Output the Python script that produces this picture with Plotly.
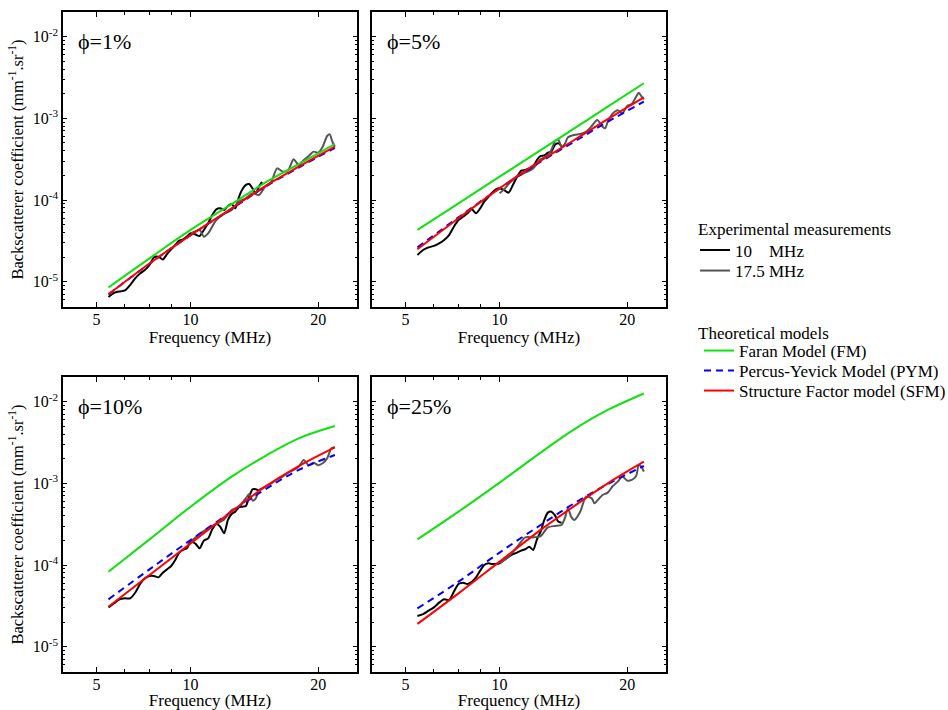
import math
import plotly.graph_objects as go

# ---------------- data (frequency in MHz, backscatter coefficient in mm^-1.sr^-1) ----------------
f_model = [6.4, 8.0, 10.0, 12.5, 15.0, 18.0, 21.9]

f_10mhz = [6.4, 6.6, 6.8, 7.0, 7.2, 7.4, 7.6, 7.8, 8.0, 8.2, 8.4, 8.6, 8.8, 9.0, 9.2, 9.4, 9.6, 9.8,
           10.0, 10.25, 10.5, 10.75, 11.0, 11.25, 11.5, 11.75, 12.0, 12.25, 12.5, 12.75, 13.0,
           13.25, 13.5, 13.75, 14.0, 14.25, 14.5, 14.75]

# phi = 1 %
fm_1 = [8.5e-6, 1.93e-5, 4.3e-5, 8.9e-5, 1.63e-4, 2.75e-4, 4.85e-4]
pym_1 = [7.0e-6, 1.66e-5, 3.7e-5, 7.8e-5, 1.45e-4, 2.5e-4, 4.35e-4]
sfm_1 = [7.0e-6, 1.67e-5, 3.72e-5, 7.9e-5, 1.48e-4, 2.56e-4, 4.5e-4]
exp10_1 = [6.5e-6, 7.3e-6, 7.6e-6, 7.8e-6, 9.1e-6, 1.10e-5, 1.26e-5, 1.39e-5, 1.60e-5, 1.99e-5,
           2.02e-5, 1.87e-5, 2.18e-5, 2.49e-5, 2.81e-5, 3.18e-5, 3.30e-5, 3.56e-5, 3.91e-5,
           3.80e-5, 3.62e-5, 4.30e-5, 5.18e-5, 6.55e-5, 7.69e-5, 7.91e-5, 7.55e-5, 8.45e-5, 8.93e-5,
           7.91e-5, 1.08e-4, 1.35e-4, 1.53e-4, 1.57e-4, 1.39e-4, 1.21e-4, 1.46e-4, 1.67e-4]
f175_1 = [10.0, 10.5, 10.75, 11.0, 11.5, 12.0, 12.5, 13.0, 13.5, 14.0, 14.5, 15.0, 15.5, 16.0,
          16.5, 17.0, 17.5, 18.0, 18.5, 19.0, 19.5, 20.0, 20.5, 21.0, 21.3, 21.6, 21.9]
exp175_1 = [3.91e-5, 4.30e-5, 3.56e-5, 3.91e-5, 5.69e-5, 6.75e-5, 7.55e-5, 9.55e-5, 1.05e-4,
            1.21e-4, 1.15e-4, 1.46e-4, 1.67e-4, 2.44e-4, 2.22e-4, 2.33e-4, 3.15e-4, 2.69e-4,
            3.09e-4, 3.46e-4, 3.91e-4, 3.80e-4, 4.50e-4, 6.08e-4, 6.37e-4, 5.18e-4, 4.50e-4]

# phi = 5 %
fm_5 = [4.30e-5, 9.1e-5, 1.93e-4, 4.08e-4, 7.53e-4, 1.39e-3, 2.69e-3]
pym_5 = [2.63e-5, 6.14e-5, 1.39e-4, 2.94e-4, 5.18e-4, 9.1e-4, 1.60e-3]
sfm_5 = [2.49e-5, 5.97e-5, 1.39e-4, 3.03e-4, 5.43e-4, 9.8e-4, 1.81e-3]
exp10_5 = [2.12e-5, 2.44e-5, 2.63e-5, 2.74e-5, 2.94e-5, 3.24e-5, 3.72e-5, 4.71e-5, 5.69e-5, 6.25e-5,
           6.87e-5, 7.69e-5, 6.87e-5, 7.91e-5, 9.55e-5, 1.08e-4, 1.23e-4, 1.35e-4, 1.39e-4,
           1.32e-4, 1.23e-4, 1.53e-4, 1.93e-4, 2.29e-4, 2.33e-4, 2.44e-4, 2.56e-4, 3.09e-4, 3.46e-4,
           3.52e-4, 3.80e-4, 3.91e-4, 4.71e-4, 4.94e-4, 4.58e-4]
f175_5 = [10.0, 10.25, 10.5, 10.75, 11.0, 11.5, 12.0, 12.5, 13.0, 13.25, 13.5, 13.75, 14.0, 14.25,
          14.5, 15.0, 15.5, 16.0, 16.5, 17.0, 17.5, 17.75, 18.0, 18.5, 19.0, 19.5, 20.0, 20.5,
          21.0, 21.3, 21.6, 21.9]
exp175_5 = [1.21e-4, 1.35e-4, 1.57e-4, 1.76e-4, 1.93e-4, 2.16e-4, 2.44e-4, 3.15e-4, 3.56e-4,
            4.09e-4, 5.18e-4, 5.53e-4, 4.50e-4, 4.85e-4, 5.85e-4, 6.25e-4, 6.43e-4, 6.87e-4,
            8.05e-4, 9.55e-4, 7.91e-4, 7.55e-4, 9.10e-4, 1.15e-3, 1.26e-3, 1.15e-3, 1.42e-3,
            1.50e-3, 1.84e-3, 2.06e-3, 1.87e-3, 1.71e-3]

# phi = 10 %
fm_10 = [8.28e-5, 2.06e-4, 5.18e-4, 1.21e-3, 2.16e-3, 3.56e-3, 5.04e-3]
pym_10 = [3.80e-5, 8.85e-5, 2.02e-4, 4.50e-4, 8.45e-4, 1.46e-3, 2.22e-3]
sfm_10 = [3.09e-5, 7.55e-5, 1.84e-4, 4.50e-4, 9.10e-4, 1.63e-3, 2.76e-3]
exp10_10 = [3.03e-5, 3.40e-5, 3.80e-5, 3.91e-5, 3.91e-5, 4.58e-5, 5.85e-5, 6.87e-5, 7.33e-5, 7.33e-5,
            7.06e-5, 8.05e-5, 8.85e-5, 9.73e-5, 1.15e-4, 1.42e-4, 1.53e-4, 1.60e-4, 1.93e-4,
            1.84e-4, 1.60e-4, 1.99e-4, 2.12e-4, 2.74e-4, 3.18e-4, 2.94e-4, 2.44e-4, 3.56e-4, 4.21e-4,
            4.50e-4, 5.08e-4, 5.18e-4, 5.27e-4, 6.87e-4, 8.45e-4, 8.45e-4, 8.13e-4]
f175_10 = [10.0, 10.5, 11.0, 11.5, 12.0, 12.5, 13.0, 13.5, 13.75, 14.0, 14.25, 14.5, 15.0, 15.5,
           16.0, 16.5, 17.0, 17.5, 18.0, 18.5, 19.0, 19.5, 20.0, 20.5, 21.0, 21.5, 21.9]
exp175_10 = [1.93e-4, 2.40e-4, 2.81e-4, 3.18e-4, 3.62e-4, 4.71e-4, 5.18e-4, 6.55e-4, 7.40e-4,
             6.14e-4, 6.55e-4, 8.28e-4, 9.10e-4, 1.00e-3, 1.12e-3, 1.21e-3, 1.35e-3, 1.46e-3,
             1.60e-3, 1.93e-3, 1.67e-3, 1.79e-3, 1.67e-3, 1.76e-3, 2.02e-3, 2.69e-3, 2.76e-3]

# phi = 25 %
fm_25 = [2.06e-4, 4.50e-4, 1.02e-3, 2.38e-3, 4.58e-3, 7.91e-3, 1.26e-2]
pym_25 = [2.94e-5, 6.25e-5, 1.42e-4, 3.09e-4, 5.69e-4, 9.8e-4, 1.63e-3]
sfm_25 = [1.90e-5, 4.50e-5, 1.10e-4, 2.69e-4, 5.27e-4, 1.00e-3, 1.84e-3]
exp10_25 = [2.38e-5, 2.51e-5, 2.76e-5, 3.03e-5, 3.46e-5, 3.80e-5, 3.72e-5, 4.71e-5, 5.85e-5, 6.08e-5,
            5.85e-5, 6.25e-5, 7.06e-5, 8.53e-5, 1.00e-4, 1.05e-4, 1.03e-4, 1.03e-4, 1.05e-4,
            1.15e-4, 1.26e-4, 1.36e-4, 1.42e-4, 1.50e-4, 1.56e-4, 1.67e-4, 1.53e-4, 2.06e-4, 2.56e-4,
            3.56e-4, 4.38e-4, 4.50e-4, 4.09e-4, 3.40e-4, 3.30e-4]
f175_25 = [10.0, 10.5, 11.0, 11.5, 12.0, 12.5, 13.0, 13.5, 14.0, 14.25, 14.5, 14.75, 15.0, 15.5,
           16.0, 16.5, 16.75, 17.0, 17.5, 18.0, 18.5, 19.0, 19.5, 20.0, 20.5, 21.0, 21.3, 21.6, 21.9]
exp175_25 = [1.05e-4, 1.26e-4, 1.67e-4, 2.18e-4, 2.18e-4, 2.26e-4, 2.89e-4, 3.01e-4, 3.09e-4,
             3.72e-4, 4.94e-4, 3.91e-4, 3.56e-4, 4.50e-4, 6.87e-4, 6.55e-4, 5.69e-4, 6.14e-4,
             7.19e-4, 7.69e-4, 9.27e-4, 1.05e-3, 1.21e-3, 1.08e-3, 1.10e-3, 1.23e-3, 1.67e-3,
             1.60e-3, 1.39e-3]

panel_labels = ["ϕ=1%", "ϕ=5%", "ϕ=10%", "ϕ=25%"]
x_tick_vals = [6, 10, 20]
x_tick_text = ["5", "10", "20"]
y_tick_vals = [1e-5, 1e-4, 1e-3, 1e-2]
y_tick_text = ["10<sup>-5</sup>", "10<sup>-4</sup>", "10<sup>-3</sup>", "10<sup>-2</sup>"]

legend_titles = ["Experimental measurements", "Theoretical models"]
legend_exp_names = ["10\u00a0\u00a0\u00a0\u00a0MHz", "17.5 MHz"]
legend_model_names = ["Faran Model (FM)", "Percus-Yevick Model (PYM)", "Structure Factor model (SFM)"]

panels = [
    (fm_1, pym_1, sfm_1, exp10_1, f175_1, exp175_1),
    (fm_5, pym_5, sfm_5, exp10_5, f175_5, exp175_5),
    (fm_10, pym_10, sfm_10, exp10_10, f175_10, exp175_10),
    (fm_25, pym_25, sfm_25, exp10_25, f175_25, exp175_25),
]

# ---------------- styling ----------------
FONT = "Liberation Serif"
C_BLACK = "#000000"
C_GRAY = "#555555"
C_GREEN = "#11e011"
C_BLUE = "#0000ff"
C_RED = "#ff0000"

W, H = 948, 710
# panel pixel boxes (left, right, top, bottom)
boxes = [(63, 357, 12, 307), (372, 666, 12, 307), (63, 357, 377, 672), (372, 666, 377, 672)]

fig = go.Figure()

for i, (fm, pym, sfm, e10, f175, e175) in enumerate(panels):
    n = "" if i == 0 else str(i + 1)
    xa, ya = "x" + n, "y" + n
    show = i == 0
    common = dict(xaxis=xa, yaxis=ya, mode="lines", hoverinfo="skip", showlegend=show)
    fig.add_trace(go.Scatter(x=f_10mhz[:len(e10)], y=e10, name=legend_exp_names[0],
                             line=dict(color=C_BLACK, width=2, shape="spline", smoothing=0.7),
                             legend="legend", **common))
    fig.add_trace(go.Scatter(x=f175, y=e175, name=legend_exp_names[1],
                             line=dict(color=C_GRAY, width=2, shape="spline", smoothing=0.7),
                             legend="legend2", **common))
    fig.add_trace(go.Scatter(x=f_model, y=fm, name=legend_model_names[0],
                             line=dict(color=C_GREEN, width=2, shape="spline"),
                             legend="legend3", **common))
    fig.add_trace(go.Scatter(x=f_model, y=pym, name=legend_model_names[1],
                             line=dict(color=C_BLUE, width=2, shape="spline", dash="7px,5px"),
                             legend="legend4", **common))
    fig.add_trace(go.Scatter(x=f_model, y=sfm, name=legend_model_names[2],
                             line=dict(color=C_RED, width=2, shape="spline"),
                             legend="legend5", **common))

y_minor = [k * 10.0 ** e for e in range(-6, -1) for k in range(2, 10)]
x_range = [math.log10(5.0), math.log10(24.7)]
y_range = [-5.31, -1.698]

layout_axes = {}
for i, (l, r, t, b) in enumerate(boxes):
    n = "" if i == 0 else str(i + 1)
    xdom = [l / W, r / W]
    ydom = [(H - b) / H, (H - t) / H]
    layout_axes["xaxis" + n] = dict(
        domain=xdom, anchor="y" + n, type="log", range=x_range, automargin=False,
        tickmode="array", tickvals=x_tick_vals, ticktext=x_tick_text,
        ticks="inside", ticklen=5, tickwidth=1, tickcolor="black", ticklabelstandoff=-3,
        minor=dict(tickvals=[7, 8, 9], ticks="inside", ticklen=3, tickwidth=1,
                   tickcolor="black", showgrid=False),
        showline=True, linecolor="black", linewidth=1.5, mirror="allticks",
        showgrid=False, zeroline=False,
        tickfont=dict(family=FONT, size=16, color="black"),
        title=dict(text="Frequency (MHz)", font=dict(family=FONT, size=17, color="black"), standoff=2),
    )
    ytitle = "Backscatterer coefficient (mm<sup>-1</sup>.sr<sup>-1</sup>)" if i in (0, 2) else ""
    layout_axes["yaxis" + n] = dict(
        domain=ydom, anchor="x" + n, type="log", range=y_range, automargin=False,
        tickmode="array", tickvals=y_tick_vals,
        ticktext=y_tick_text if i in (0, 2) else ["", "", "", ""],
        ticks="inside", ticklen=4, tickwidth=1, tickcolor="black",
        minor=dict(tickvals=y_minor, ticks="inside", ticklen=2, tickwidth=1,
                   tickcolor="black", showgrid=False),
        showline=True, linecolor="black", linewidth=1.5, mirror="allticks",
        showgrid=False, zeroline=False,
        tickfont=dict(family=FONT, size=16, color="black"),
        title=dict(text=ytitle, font=dict(family=FONT, size=16.5, color="black"), standoff=5),
    )

annotations = []
for i, lab in enumerate(panel_labels):
    n = "" if i == 0 else str(i + 1)
    annotations.append(dict(text=lab, xref="x" + n + " domain", yref="y" + n + " domain",
                            x=0.045, y=0.90, xanchor="left", yanchor="middle", showarrow=False,
                            font=dict(family=FONT, size=22, color="black")))
# legend group titles
for txt, yc in zip(legend_titles, [229, 333]):
    annotations.append(dict(text=txt, xref="paper", yref="paper", x=696 / W, y=(H - yc) / H,
                            xanchor="left", yanchor="middle", showarrow=False,
                            font=dict(family=FONT, size=17, color="black")))

legend_common = dict(xanchor="left", yanchor="middle", bgcolor="rgba(0,0,0,0)",
                     font=dict(family=FONT, size=17, color="black"),
                     itemwidth=30, tracegroupgap=0, borderwidth=0)
legend_pos = {"legend": (695, 250.5), "legend2": (695, 271), "legend3": (699, 351),
              "legend4": (699, 371), "legend5": (699, 391)}
legends = {k: dict(x=x / W, y=(H - y) / H, **legend_common) for k, (x, y) in legend_pos.items()}

fig.update_layout(
    width=W, height=H, autosize=False,
    margin=dict(l=0, r=0, t=0, b=0, autoexpand=False),
    paper_bgcolor="white", plot_bgcolor="white",
    font=dict(family=FONT, size=14, color="black"),
    annotations=annotations,
    **legends,
    **layout_axes,
)

fig.write_html("out.html", config={"displayModeBar": False},
               post_script="document.body.style.margin='0';document.body.style.padding='0';")
